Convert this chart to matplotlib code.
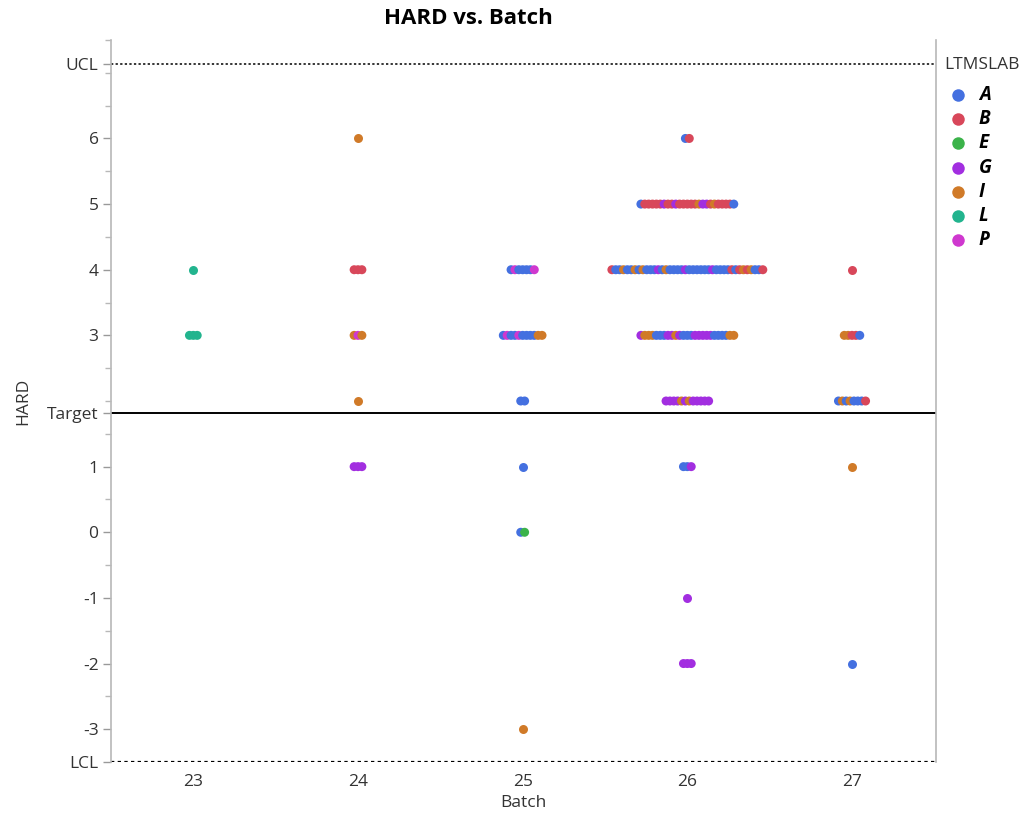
import matplotlib
matplotlib.use("Agg")
import matplotlib.pyplot as plt
from matplotlib.lines import Line2D

plt.rcParams['font.family'] = ['Open Sans', 'DejaVu Sans']

# ---- data ----
labs = ["A", "B", "E", "G", "I", "L", "P"]
lab_colors = ["#4470E0", "#D8475A", "#3BB34A", "#A22EE0", "#D07A28", "#22B48E", "#CF38CF"]

row_batch = [23, 23,
             24, 24, 24, 24, 24,
             25, 25, 25, 25, 25, 25,
             26, 26, 26, 26, 26, 26, 26, 26,
             27, 27, 27, 27, 27]
row_hard = [4, 3,
            6, 4, 3, 2, 1,
            4, 3, 2, 1, 0, -3,
            6, 5, 4, 3, 2, 1, -1, -2,
            4, 3, 2, 1, -2]
row_labs = ["L", "LLL",
            "I", "BBB", "IPI", "I", "GGG",
            "APAAAAP", "APAAPAAAAII", "AA", "A", "AE", "I",
            "AB",
            "ABBBBBGBBGBBBBBIGGBIBBBBA",
            "BAAIAAIAIAAAGAIAAAAGAAAAAAGAAAABABIBIAAB",
            "GIIIAAAGGIGAAAGGGGGAAAAII",
            "GGGGIGIGGGGG",
            "AAG", "G", "GGG",
            "B", "IIBBA", "AIAIAAAB", "I", "A"]

ucl = 7.13
target = 1.82
lcl = -3.5
y_ticks = [-3, -2, -1, 0, 1, 3, 4, 5, 6]
x_ticks = [23, 24, 25, 26, 27]

# ---- figure ----
fig = plt.figure(figsize=(10.27, 8.14), dpi=100)
ax = fig.add_axes([111/1027, 1-762/814, (936-111)/1027, (762-40)/814])
ax.set_xlim(22.5, 27.51)
ax.set_ylim(lcl, 7.5)

step = 0.0235
color_of = dict(zip(labs, lab_colors))
for b, h, seq in zip(row_batch, row_hard, row_labs):
    n = len(seq)
    xs = [b + (i - (n - 1) / 2) * step for i in range(n)]
    ax.scatter(xs, [h] * n, c=[color_of[c] for c in seq], s=42,
               linewidths=0, zorder=3)

ax.axhline(ucl, color="black", lw=1.1, ls=(0, (1.5, 1.5)), zorder=2)
ax.axhline(lcl, color="black", lw=1.6, ls=(0, (1.5, 1.5)), zorder=2)
ax.axhline(target, color="black", lw=1.4, zorder=2)

for s in ["top", "bottom"]:
    ax.spines[s].set_visible(False)
for s in ["left", "right"]:
    ax.spines[s].set_color("#b8b8b8")
    ax.spines[s].set_linewidth(1.2)

yt = y_ticks + [ucl, target, lcl]
ytl = [str(v) for v in y_ticks] + ["UCL", "Target", "LCL"]
ax.set_yticks(yt)
ax.set_yticklabels(ytl)
ax.set_yticks([v + 0.5 for v in range(-4, 8)] + [2, 7], minor=True)
ax.tick_params(axis="y", which="major", length=6, color="#999999",
               labelsize=12.5, labelcolor="#333333", width=1, pad=3)
ax.tick_params(axis="y", which="minor", length=4, color="#b8b8b8", width=1)
for t in ax.yaxis.get_major_ticks()[-3:]:
    t.tick1line.set_color("black")
ax.set_xticks(x_ticks)
ax.set_xticklabels([str(v) for v in x_ticks])
ax.tick_params(axis="x", length=0, labelsize=12.5, labelcolor="#333333", pad=9)

ax.set_xlabel("Batch", fontsize=12.5, color="#333333", labelpad=3)
ax.set_ylabel("HARD", fontsize=12.5, color="#333333")
ax.yaxis.label.set_va("center")
ax.yaxis.set_label_coords(-0.106, 0.5)
fig.text(468/1027, 1-19/814, "HARD vs. Batch", ha="center", va="center",
         fontsize=16, fontweight="bold", color="black")

# legend
fig.text(944/1027, 1-65/814, "LTMSLAB", ha="left", va="center",
         fontsize=12.5, color="#333333")
for i, (lab, col) in enumerate(zip(labs, lab_colors)):
    yy = 1 - (95 + i * 24.2) / 814
    fig.add_artist(Line2D([958/1027], [yy], marker="o", markersize=9,
                          color=col, markeredgewidth=0, linestyle="none",
                          transform=fig.transFigure))
    fig.text(979/1027, yy, lab, ha="left", va="center", fontsize=13.5,
             fontweight="bold", fontstyle="italic", color="black")

fig.savefig("out.png", dpi=100)
